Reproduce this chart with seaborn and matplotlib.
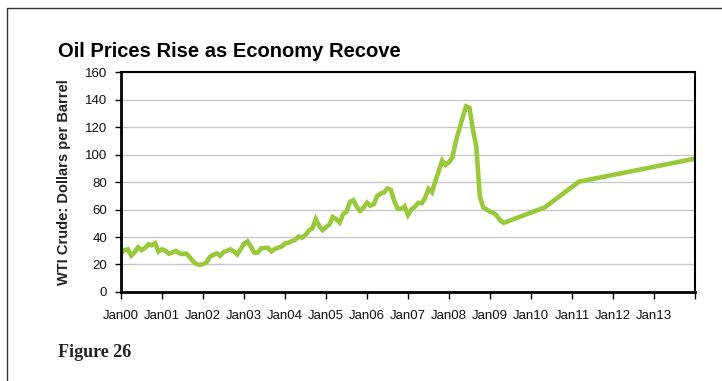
import matplotlib
matplotlib.use("Agg")
import matplotlib.pyplot as plt
from matplotlib.lines import Line2D
import seaborn as sns
import pandas as pd

# Monthly WTI crude price, Jan 2000 - May 2009 (month index from Jan 2000)
hist_month = list(range(0, 114))
hist_price = [
    28.0, 30.5, 31.0, 26.5, 29.0, 32.5, 30.5, 32.0, 34.7, 34.0, 35.4, 29.3,   # 2000
    31.0, 30.0, 27.8, 28.8, 29.8, 28.3, 27.6, 28.0, 25.7, 22.5, 20.3, 19.7,   # 2001
    20.2, 21.5, 25.5, 27.0, 28.1, 26.3, 29.0, 30.0, 31.0, 29.5, 27.3, 31.0,   # 2002
    35.0, 36.8, 33.0, 28.6, 28.6, 31.7, 32.0, 32.2, 29.5, 31.3, 32.3, 33.0,   # 2003
    35.3, 35.8, 37.0, 38.0, 40.3, 39.5, 41.5, 44.8, 46.3, 53.0, 48.0, 45.0,   # 2004
    47.2, 49.0, 54.5, 53.0, 50.5, 56.5, 58.5, 65.5, 66.8, 62.0, 59.0, 61.5,   # 2005
    65.0, 62.8, 64.0, 70.0, 71.5, 72.5, 75.3, 74.2, 66.0, 60.5, 60.5, 62.3,   # 2006
    56.0, 60.0, 62.0, 64.8, 64.5, 68.5, 75.0, 72.5, 80.5, 88.0, 95.5, 92.5,   # 2007
    94.3, 98.0, 109.5, 118.5, 127.0, 135.0, 134.0, 118.0, 105.7, 70.0, 61.5, 60.0,  # 2008
    58.5, 57.5, 55.5, 52.0, 50.3, 51.2,                                       # 2009
]

# Projected path after mid-2009
proj_month = [124, 134, 168]
proj_price = [61.5, 80.2, 97.0]

months = hist_month + proj_month
prices = hist_price + proj_price

year_labels = ["Jan00", "Jan01", "Jan02", "Jan03", "Jan04", "Jan05", "Jan06",
               "Jan07", "Jan08", "Jan09", "Jan10", "Jan11", "Jan12", "Jan13", ""]

df = pd.DataFrame({"month": months, "price": prices})

sns.set_theme(style="white")
plt.rcParams["font.family"] = ["Liberation Sans", "DejaVu Sans"]

fig = plt.figure(figsize=(7.22, 3.81), dpi=100)
ax = fig.add_axes([0.1676, 0.2336, 0.7950, 0.5774])

sns.lineplot(data=df, x="month", y="price", ax=ax, color="#99C93A",
             linewidth=3.3, solid_joinstyle="miter")

ax.set_xlim(0, 168)
ax.set_ylim(0, 160)
ax.set_xticks(range(0, 169, 12))
ax.set_xticklabels(year_labels, fontsize=9.5, color="#111111")
ax.set_yticks(range(0, 161, 20))
ax.set_yticklabels([str(v) for v in range(0, 161, 20)], fontsize=9.5, color="#111111")
ax.yaxis.grid(True, color="#C8C8C8", linewidth=1.0)
ax.set_axisbelow(True)

ax.tick_params(axis="x", which="major", direction="out", length=5, width=1,
               color="black", bottom=True, pad=8)
ax.tick_params(axis="y", which="major", direction="out", length=4, width=1,
               color="black", left=True, pad=6)

for side in ["left", "bottom"]:
    ax.spines[side].set_color("black")
    ax.spines[side].set_linewidth(2.0)
for side in ["top", "right"]:
    ax.spines[side].set_color("black")
    ax.spines[side].set_linewidth(1.5)

ax.set_xlabel("")
ax.set_ylabel("WTI Crude: Dollars per Barrel", fontsize=10.5, fontweight="bold",
              color="#222222", labelpad=10)

fig.text(0.080, 0.866, "Oil Prices Rise as Economy Recove", fontsize=14.5,
         fontweight="bold", color="black", ha="left", va="center")
fig.text(0.080, 0.076, "Figure 26", fontsize=13, fontweight="bold",
         family=["Liberation Serif", "DejaVu Serif"], color="#222222",
         ha="left", va="center")

# page frame: left and top rules
fig.add_artist(Line2D([0.0097, 0.0097], [0.0, 0.979], transform=fig.transFigure,
                      color="#333333", linewidth=1.0))
fig.add_artist(Line2D([0.0097, 1.0], [0.979, 0.979], transform=fig.transFigure,
                      color="#333333", linewidth=1.0))

fig.savefig("out.png", dpi=100, facecolor="white")
